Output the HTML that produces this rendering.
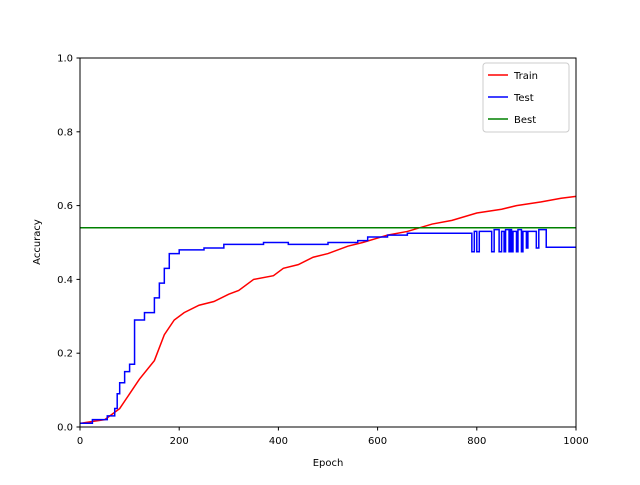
<!DOCTYPE html>
<html><head><meta charset="utf-8"><style>
body{margin:0;background:#fff}
svg text{font-family:"DejaVu Sans","Liberation Sans",sans-serif;font-size:10px;fill:#000}
</style></head><body>
<svg width="640" height="480" viewBox="0 0 640 480">
<rect width="640" height="480" fill="#fff"/>
<g id="plot"></g>
<rect x="80" y="58" width="496" height="369" fill="none" stroke="#000" stroke-width="1"/>
<g id="ticks"></g>
<text x="328" y="466" text-anchor="middle" font-size="12">Epoch</text>
<text x="40" y="242" text-anchor="middle" transform="rotate(-90 40 242)">Accuracy</text>
<g>
<rect x="483" y="63" width="86" height="69" rx="3" fill="#fff" fill-opacity="0.8" stroke="#ccc"/>
<line x1="488" y1="75" x2="508" y2="75" stroke="red" stroke-width="1.5"/>
<text x="514" y="79">Train</text>
<line x1="488" y1="97" x2="508" y2="97" stroke="blue" stroke-width="1.5"/>
<text x="514" y="101">Test</text>
<line x1="488" y1="119" x2="508" y2="119" stroke="green" stroke-width="1.5"/>
<text x="514" y="123">Best</text>
</g>
</svg>
<script>
const trainEpochs=[0,50,80,100,120,150,170,190,210,240,270,300,320,350,390,410,440,470,500,540,570,620,660,710,750,800,850,880,930,970,1000];
const trainAcc=[0.01,0.02,0.05,0.09,0.13,0.18,0.25,0.29,0.31,0.33,0.34,0.36,0.37,0.40,0.41,0.43,0.44,0.46,0.47,0.49,0.50,0.52,0.53,0.55,0.56,0.58,0.59,0.60,0.61,0.62,0.625];
const testEpochs=[0,25,50,55,70,75,80,90,100,110,130,150,160,170,180,200,250,290,370,420,500,560,580,620,660,789,790,795,800,805,830,835,845,850,855,858,865,868,870,873,880,883,890,893,900,903,920,925,940,1000];
const testAcc=[0.01,0.02,0.02,0.03,0.05,0.09,0.12,0.15,0.17,0.29,0.31,0.35,0.39,0.43,0.47,0.48,0.485,0.495,0.50,0.495,0.50,0.505,0.515,0.52,0.525,0.525,0.475,0.53,0.475,0.53,0.475,0.535,0.475,0.53,0.475,0.535,0.475,0.535,0.475,0.53,0.475,0.535,0.475,0.53,0.485,0.53,0.485,0.535,0.487,0.487];
const bestAcc=[0.54];
const xTicks=[0,200,400,600,800,1000];
const yTicks=[0.0,0.2,0.4,0.6,0.8,1.0];
const X=v=>80+v/1000*496, Y=v=>427-v*369;
const NS='http://www.w3.org/2000/svg';
const plot=document.getElementById('plot'), ticks=document.getElementById('ticks');
function path(xs,ys,col,name,step){
  let d='M'+X(xs[0])+','+Y(ys[0]);
  for(let i=1;i<xs.length;i++){d+=(step?'L'+X(xs[i])+','+Y(ys[i-1]):'')+'L'+X(xs[i])+','+Y(ys[i]);}
  const p=document.createElementNS(NS,'path');
  p.setAttribute('d',d);p.setAttribute('fill','none');p.setAttribute('stroke',col);p.setAttribute('stroke-width','1.5');
  
  
  plot.appendChild(p);
}
path(trainEpochs,trainAcc,'red','train-line',false);
path(testEpochs,testAcc,'blue','test-line',true);
const b=document.createElementNS(NS,'line');
b.setAttribute('x1',X(0));b.setAttribute('x2',X(1000));b.setAttribute('y1',Y(bestAcc[0]));b.setAttribute('y2',Y(bestAcc[0]));
b.setAttribute('stroke','green');b.setAttribute('stroke-width','1.5');


plot.appendChild(b);
xTicks.forEach(v=>{
  const l=document.createElementNS(NS,'line');l.setAttribute('x1',X(v));l.setAttribute('x2',X(v));l.setAttribute('y1',427);l.setAttribute('y2',430.5);l.setAttribute('stroke','#000');
  
  
  ticks.appendChild(l);
  const t=document.createElementNS(NS,'text');t.setAttribute('x',X(v));t.setAttribute('y',444);t.setAttribute('text-anchor','middle');t.textContent=v;
  
  
  ticks.appendChild(t);
});
yTicks.forEach(v=>{
  const l=document.createElementNS(NS,'line');l.setAttribute('x1',76.5);l.setAttribute('x2',80);l.setAttribute('y1',Y(v));l.setAttribute('y2',Y(v));l.setAttribute('stroke','#000');
  
  
  ticks.appendChild(l);
  const t=document.createElementNS(NS,'text');t.setAttribute('x',73);t.setAttribute('y',Y(v)+3.5);t.setAttribute('text-anchor','end');t.textContent=v.toFixed(1);
  
  
  ticks.appendChild(t);
});
</script>
</body></html>
